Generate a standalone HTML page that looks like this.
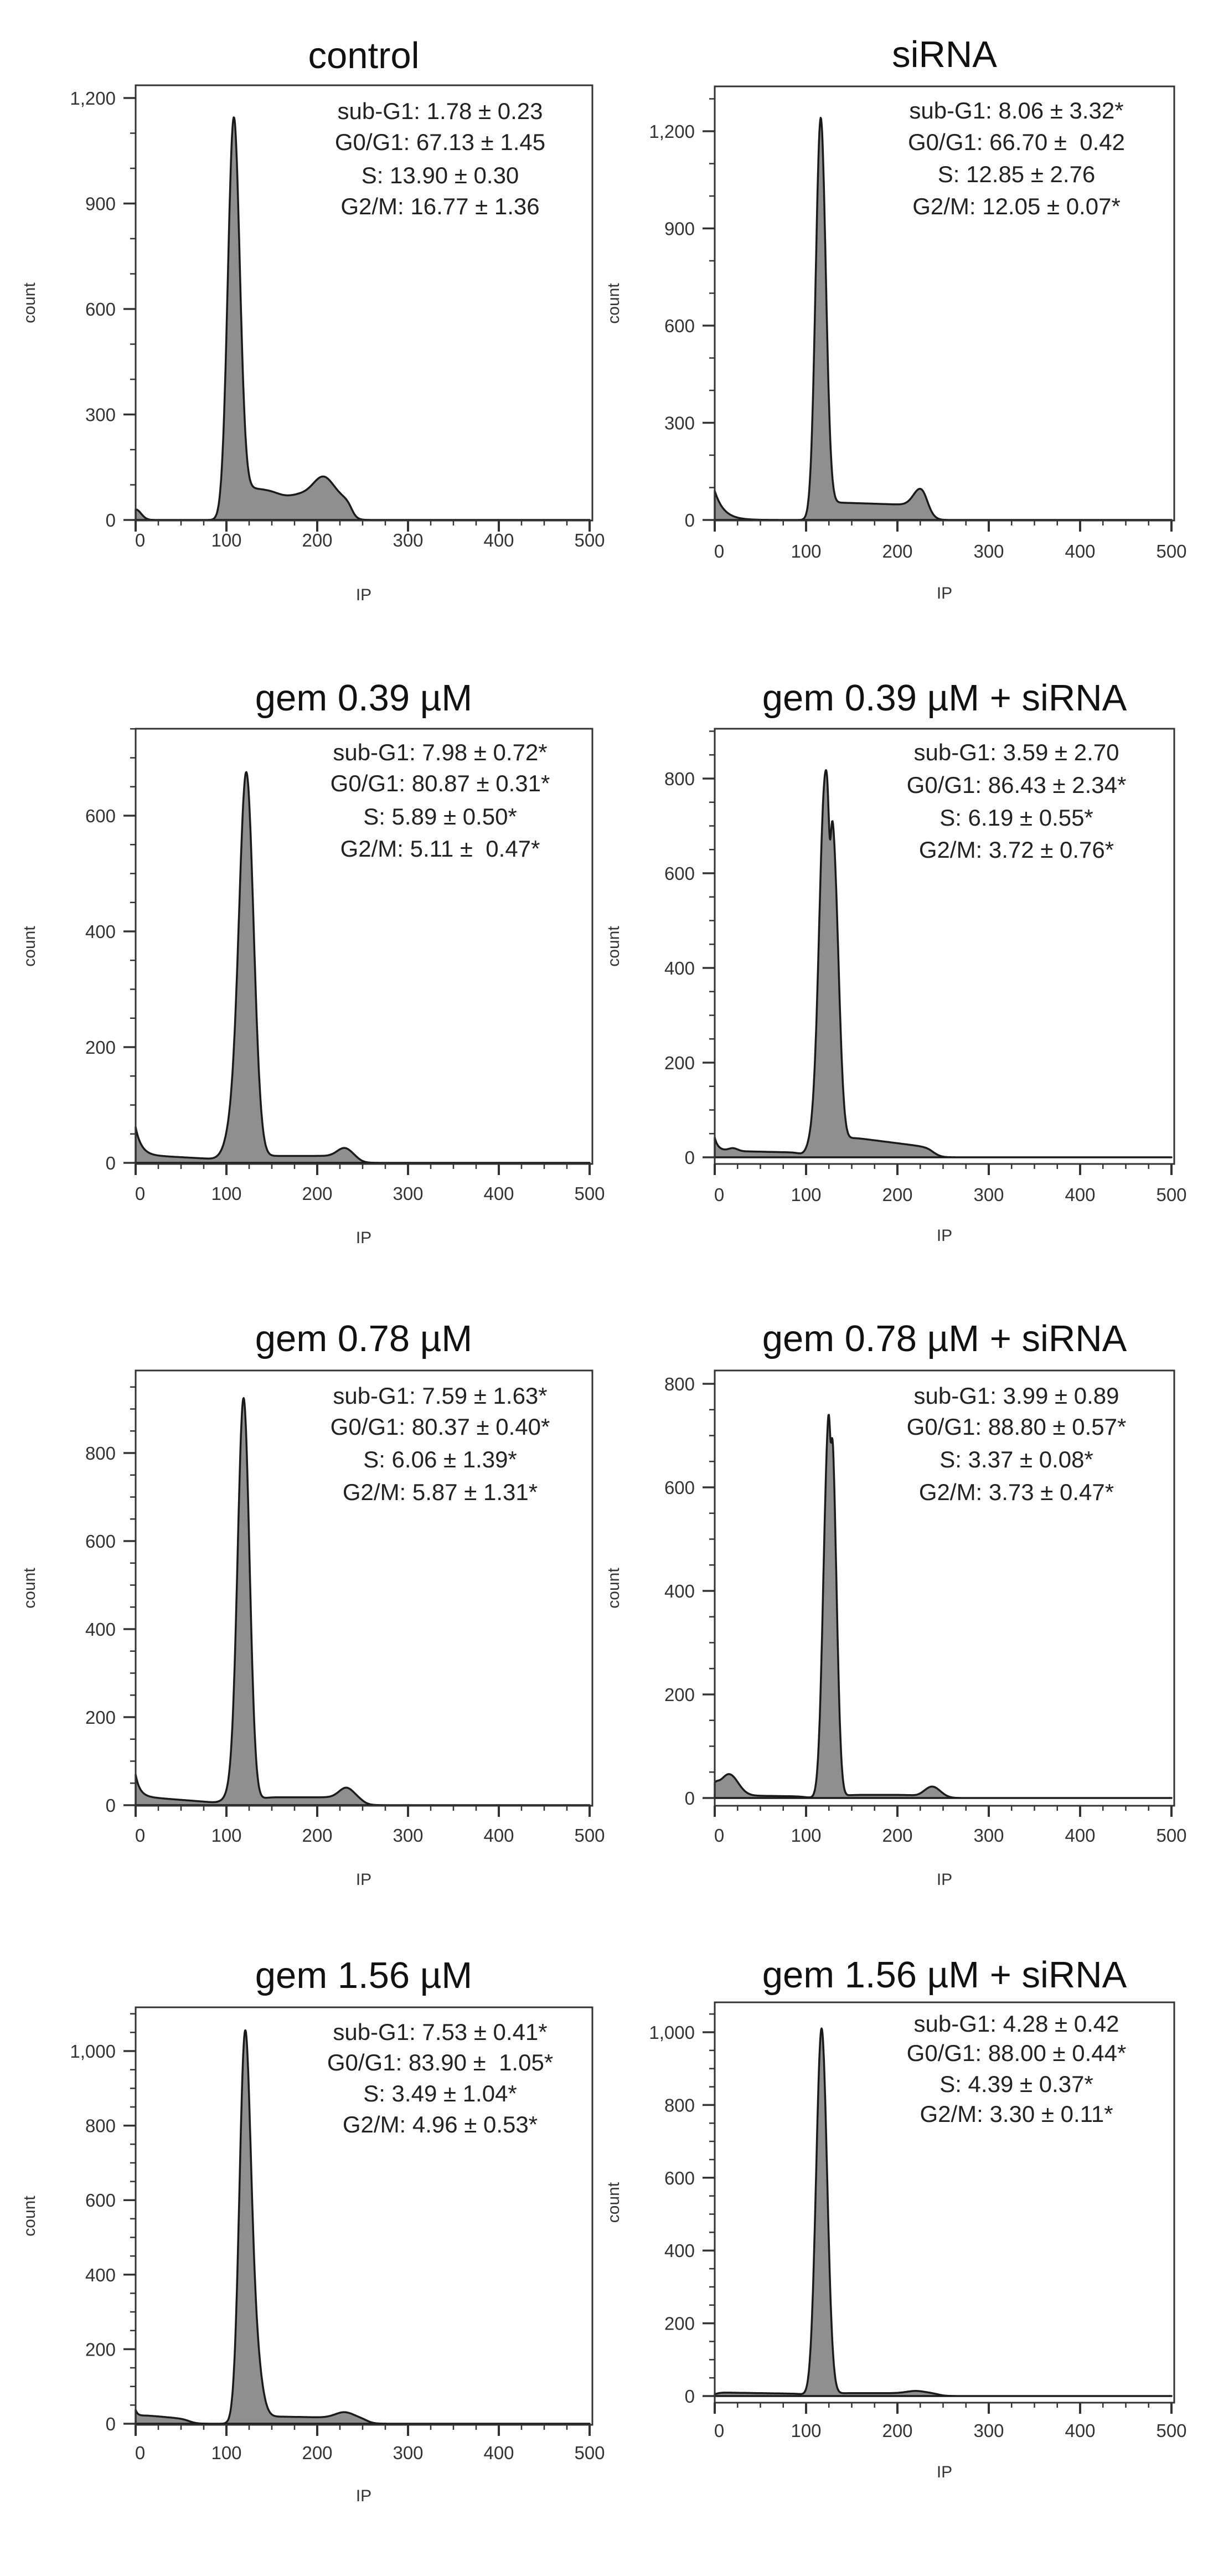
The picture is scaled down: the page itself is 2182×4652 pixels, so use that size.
<!DOCTYPE html>
<html><head><meta charset="utf-8"><style>
html,body{margin:0;padding:0;background:#fff;}
svg{display:block;}
text{font-family:"Liberation Sans",Arial,sans-serif;}
</style></head><body>
<svg id="s" width="2182" height="4652" viewBox="0 0 2182 4652" xmlns="http://www.w3.org/2000/svg"></svg>
<script>
var S=document.getElementById('s');
var out='';
function g(x,m,h,s){return h*Math.exp(-(x-m)*(x-m)/(2*s*s));}
function sig(x,a,w){return 1/(1+Math.exp(-(x-a)/w));}
function plat(x,a,b,l1,l2,w){w=w||4;var t=(x-a)/(b-a);t=Math.max(0,Math.min(1,t));return (l1+(l2-l1)*t)*sig(x,a,w)*(1-sig(x,b,w));}
var P=[
 {L:1,title:"control",tb:123,top:154,bot:940,y0:939,per:190.5/300,maj:300,mn:100,max:1200,
  st:["sub-G1: 1.78 \u00b1 0.23","G0/G1: 67.13 \u00b1 1.45","S: 13.90 \u00b1 0.30","G2/M: 16.77 \u00b1 1.36"],sy:[200,256,316,372],tk:975,ip:1073,
  f:function(x){return g(x,0,30,6)+g(x,108,1125,6.5)+plat(x,112,238,95,60,3)+g(x,207,55,11)-g(x,165,10,10);}},
 {L:0,title:"siRNA",tb:121,top:156,bot:940,y0:939,per:175.5/300,maj:300,mn:100,max:1200,
  st:["sub-G1: 8.06 \u00b1 3.32*","G0/G1: 66.70 \u00b1  0.42","S: 12.85 \u00b1 2.76","G2/M: 12.05 \u00b1 0.07*"],sy:[199,256,314,372],tk:995,ip:1070,
  f:function(x){return 90*Math.exp(-x/10)+g(x,116,1230,5.5)+plat(x,120,232,55,45,3)+g(x,226,55,8);}},
 {L:1,title:"gem 0.39 \u00b5M",tb:1283,top:1316,bot:2102,y0:2100,per:209/200,maj:200,mn:50,max:600,
  st:["sub-G1: 7.98 \u00b1 0.72*","G0/G1: 80.87 \u00b1 0.31*","S: 5.89 \u00b1 0.50*","G2/M: 5.11 \u00b1  0.47*"],sy:[1358,1414,1474,1532],tk:2155,ip:2234,
  f:function(x){return 55*Math.exp(-x/6)+plat(x,0,95,14,6,3)+g(x,122,668,8)+g(x,106,50,8)+plat(x,135,245,12,12,4)+g(x,230,14,8);}},
 {L:0,title:"gem 0.39 \u00b5M + siRNA",tb:1283,top:1316,bot:2102,y0:2090,per:171/200,maj:200,mn:50,max:800,
  st:["sub-G1: 3.59 \u00b1 2.70","G0/G1: 86.43 \u00b1 2.34*","S: 6.19 \u00b1 0.55*","G2/M: 3.72 \u00b1 0.76*"],sy:[1358,1417,1476,1534],tk:2157,ip:2230,
  f:function(x){return 35*Math.exp(-x/4)+plat(x,0,95,14,10,3)+g(x,20,6,5)+g(x,120,720,6)+g(x,131,520,5.5)-g(x,126,110,1.5)+g(x,108,40,6)+plat(x,138,240,45,20,4);}},
 {L:1,title:"gem 0.78 \u00b5M",tb:2440,top:2475,bot:3261,y0:3260,per:159/200,maj:200,mn:50,max:800,
  st:["sub-G1: 7.59 \u00b1 1.63*","G0/G1: 80.37 \u00b1 0.40*","S: 6.06 \u00b1 1.39*","G2/M: 5.87 \u00b1 1.31*"],sy:[2520,2576,2635,2694],tk:3314,ip:3393,
  f:function(x){return 60*Math.exp(-x/5)+plat(x,0,95,20,5,4)+g(x,119,900,6.5)+g(x,110,40,9)+plat(x,135,250,18,18,4)+g(x,232,22,8);}},
 {L:0,title:"gem 0.78 \u00b5M + siRNA",tb:2440,top:2475,bot:3261,y0:3247,per:187/200,maj:200,mn:50,max:800,
  st:["sub-G1: 3.99 \u00b1 0.89","G0/G1: 88.80 \u00b1 0.57*","S: 3.37 \u00b1 0.08*","G2/M: 3.73 \u00b1 0.47*"],sy:[2520,2576,2635,2694],tk:3314,ip:3393,
  f:function(x){return g(x,15,45,10)+g(x,0,15,4)+plat(x,20,100,5,3,4)+g(x,123,560,5)+g(x,130,450,4.5)-g(x,127,80,1.2)+plat(x,140,220,6,6,4)+g(x,238,22,9);}},
 {L:1,title:"gem 1.56 \u00b5M",tb:3590,top:3625,bot:4379,y0:4377,per:134.6/200,maj:200,mn:50,max:1000,
  st:["sub-G1: 7.53 \u00b1 0.41*","G0/G1: 83.90 \u00b1  1.05*","S: 3.49 \u00b1 1.04*","G2/M: 4.96 \u00b1 0.53*"],sy:[3669,3724,3780,3836],tk:4429,ip:4506,
  f:function(x){return 25*Math.exp(-x/3)+plat(x,0,60,25,12,4)+g(x,120,890,6)+g(x,128,260,8)+plat(x,135,255,20,15,4)+g(x,230,15,10);}},
 {L:0,title:"gem 1.56 \u00b5M + siRNA",tb:3589,top:3616,bot:4339,y0:4327,per:131.4/200,maj:200,mn:50,max:1000,
  st:["sub-G1: 4.28 \u00b1 0.42","G0/G1: 88.00 \u00b1 0.44*","S: 4.39 \u00b1 0.37*","G2/M: 3.30 \u00b1 0.11*"],sy:[3654,3707,3763,3817],tk:4389,ip:4463,
  f:function(x){return plat(x,0,98,10,6,3)+g(x,117,1010,6)+plat(x,130,245,8,8,4)+g(x,220,6,10);}}
];
function fmt(v){return v>=1000?(Math.floor(v/1000)+","+String(v%1000).padStart(3,"0")):String(v);}
P.forEach(function(p){
  var bl=p.L?245:1291, br=p.L?1070:2121, x0=bl, x5=p.L?1065:2116;
  var cx=p.L?657:1706, scx=p.L?795:1836, cntx=p.L?53:1108;
  var X=function(v){return x0+(x5-x0)*v/500;};
  var Y=function(c){return p.y0-c*p.per;};
  var d='M'+X(0)+','+Y(0);
  for(var v=0;v<=300;v+=0.5){var c=Math.max(0,p.f(v));var yy=Math.max(Y(c),p.top+2);d+=' L'+X(v).toFixed(1)+','+yy.toFixed(1);}
  d+=' L'+X(500)+','+Y(0);
  out+='<path d="'+d+' Z" fill="#8f8f8f" stroke="#1a1a1a" stroke-width="3.5" stroke-linejoin="round"/>';
  out+='<rect x="'+bl+'" y="'+p.top+'" width="'+(br-bl)+'" height="'+(p.bot-p.top)+'" fill="none" stroke="#333" stroke-width="3"/>';
  for(var c=0;Y(c)>=p.top-1;c+=p.mn){
    var yy=Y(c), major=(c%p.maj===0);
    out+='<line x1="'+(bl-(major?22:10))+'" y1="'+yy+'" x2="'+bl+'" y2="'+yy+'" stroke="#333" stroke-width="'+(major?3.5:2.5)+'"/>';
    if(major&&c<=p.max) out+='<text x="'+(bl-36)+'" y="'+(yy+12)+'" font-size="33" fill="#333" text-anchor="end">'+fmt(c)+'</text>';
  }
  for(var v=0;v<=500;v+=25){
    var xx=X(v), major=(v%100===0);
    out+='<line x1="'+xx+'" y1="'+p.bot+'" x2="'+xx+'" y2="'+(p.bot+(major?20:9))+'" stroke="#333" stroke-width="'+(major?4:2.5)+'"/>';
    if(major) out+='<text x="'+(xx+(v===0?8:0))+'" y="'+(p.tk+12)+'" font-size="33" fill="#333" text-anchor="middle">'+v+'</text>';
  }
  out+='<text x="'+cx+'" y="'+p.tb+'" font-size="67" fill="#111" text-anchor="middle">'+p.title+'</text>';
  for(var i=0;i<4;i++) out+='<text x="'+scx+'" y="'+(p.sy[i]+15)+'" font-size="42" fill="#222" text-anchor="middle" xml:space="preserve">'+p.st[i]+'</text>';
  out+='<text x="'+cx+'" y="'+(p.ip+11)+'" font-size="30" fill="#333" text-anchor="middle">IP</text>';
  var cy=(p.top+p.bot)/2;
  out+='<text x="'+cntx+'" y="'+cy+'" font-size="30" fill="#333" text-anchor="middle" transform="rotate(-90 '+cntx+' '+cy+')" dy="10">count</text>';
});
S.innerHTML=out;
</script>
</body></html>
